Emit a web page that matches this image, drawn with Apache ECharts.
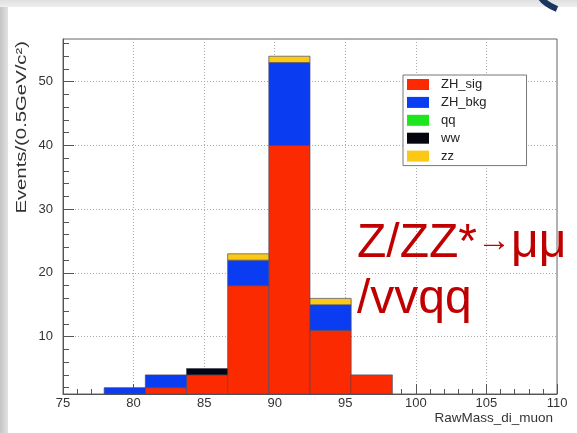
<!DOCTYPE html>
<html>
<head>
<meta charset="utf-8">
<script src="https://cdn.jsdelivr.net/npm/echarts@6/dist/echarts.min.js"></script>
<style>
  html, body { margin: 0; padding: 0; background: #fff; }
  #chart { width: 577px; height: 433px; }
</style>
</head>
<body>
<div id="chart"></div>
<script>
// histogram bins: lower edges, common width (12 bins over 75..110)
const binLow = [75, 77.917, 80.833, 83.75, 86.667, 89.583, 92.5, 95.417, 98.333, 101.25, 104.167, 107.083]
const binWidth = 2.9167

// per-bin counts, stacked bottom to top
const zhSig = [0, 0, 2, 4, 18, 40, 11, 4, 0, 0, 0, 0]
const zhBkg = [0, 2, 2, 0, 4, 13, 4, 0, 0, 0, 0, 0]
const qq    = [0, 0, 0, 0, 0, 0, 0, 0, 0, 0, 0, 0]
const ww    = [0, 0, 0, 1, 0, 0, 0, 0, 0, 0, 0, 0]
const zz    = [0, 0, 0, 0, 1, 1, 1, 0, 0, 0, 0, 0]

const seriesNames = ['ZH_sig', 'ZH_bkg', 'qq', 'ww', 'zz']
const seriesColors = ['#fc2a00', '#0a3cf2', '#1ee61e', '#05050f', '#fbc816']

const yMajorTicks = [10, 20, 30, 40, 50]
const yMinorTicks = [2, 4, 6, 8, 12, 14, 16, 18, 22, 24, 26, 28, 32, 34, 36, 38, 42, 44, 46, 48, 52, 54, 56]

const font = 'Liberation Sans, Arial, sans-serif'

const chart = echarts.init(document.getElementById('chart'))

function renderBin(params, api) {
  const x0 = api.value(0), x1 = api.value(1), y0 = api.value(2), y1 = api.value(3)
  if (y1 <= y0) return
  const p0 = api.coord([x0, y1])
  const p1 = api.coord([x1, y0])
  const cs = params.coordSys
  const rect = echarts.graphic.clipRectByRect(
    { x: p0[0], y: p0[1], width: p1[0] - p0[0], height: p1[1] - p0[1] },
    { x: cs.x, y: cs.y, width: cs.width, height: cs.height }
  )
  if (!rect) return
  return {
    type: 'rect',
    shape: rect,
    style: { fill: api.visual('color'), stroke: '#4a4a66', lineWidth: 0.7 },
  }
}

// build stacked rectangles
const layers = [zhSig, zhBkg, qq, ww, zz]
const base = binLow.map(() => 0)
const series = layers.map((vals, i) => {
  const data = vals.map((v, b) => {
    const item = [binLow[b], binLow[b] + binWidth, base[b], base[b] + v]
    base[b] += v
    return item
  })
  return {
    name: seriesNames[i],
    type: 'custom',
    renderItem: renderBin,
    encode: { x: [0, 1], y: [2, 3] },
    itemStyle: { color: seriesColors[i] },
    data,
  }
})

chart.setOption({
  backgroundColor: '#fff',
  animation: false,
  textStyle: { fontFamily: font },
  grid: {
    left: 63, right: 20, top: 39, bottom: 39,
    outerBoundsMode: 'none',
    containLabel: false,
    show: true, borderColor: '#666', borderWidth: 1, backgroundColor: 'transparent',
  },
  legend: {
    orient: 'vertical',
    left: 403, top: 75,
    data: seriesNames,
    icon: 'rect',
    itemWidth: 22, itemHeight: 11, itemGap: 4.9,
    padding: [3, 40, 3, 4],
    backgroundColor: '#fff',
    borderColor: '#777', borderWidth: 1,
    textStyle: { fontFamily: font, fontSize: 13, color: '#222', padding: [0, 0, 0, 7] },
  },
  xAxis: {
    type: 'value',
    min: 75, max: 110, interval: 5,
    axisLine: { show: true, onZero: false, lineStyle: { color: '#555', width: 1 } },
    axisTick: { show: true, inside: true, length: 10, lineStyle: { color: '#555' } },
    minorTick: { show: true, splitNumber: 5, length: 5, lineStyle: { color: '#555' } },
    axisLabel: { fontFamily: font, fontSize: 13, color: '#333', margin: 3 },
    splitLine: { show: true, lineStyle: { color: '#aaa', type: [1, 2], width: 1 } },
  },
  yAxis: [
    {
      type: 'value',
      min: 1, max: 56.7,
      position: 'left',
      axisLine: { show: true, onZero: false, lineStyle: { color: '#555', width: 1 } },
      axisTick: { show: true, inside: true, length: 11, customValues: yMajorTicks, lineStyle: { color: '#555' } },
      axisLabel: {
        fontFamily: font, fontSize: 13, color: '#333', margin: 10,
        customValues: yMajorTicks,
        formatter: (v) => (v % 10 === 0 ? String(v) : ''),
      },
      splitLine: { show: true, lineStyle: { color: '#aaa', type: [1, 2], width: 1 } },
    },
    {
      type: 'value',
      min: 1, max: 56.7,
      position: 'left',
      axisLine: { show: false },
      axisTick: { show: true, inside: true, length: 6, customValues: yMinorTicks, lineStyle: { color: '#555' } },
      axisLabel: { show: false },
      splitLine: { show: false },
    },
  ],
  graphic: [
    {
      type: 'rect', left: 0, top: 0, z: -10, silent: true,
      shape: { width: 8, height: 433 },
      style: { fill: new echarts.graphic.LinearGradient(0, 0, 1, 0, [
        { offset: 0, color: '#c4c4c4' }, { offset: 1, color: '#e2e2e2' }]) },
    },
    {
      type: 'rect', left: 0, top: 0, z: -10, silent: true,
      shape: { width: 577, height: 7 },
      style: { fill: new echarts.graphic.LinearGradient(0, 0, 0, 1, [
        { offset: 0, color: '#e0e0e0' }, { offset: 1, color: '#eeeeee' }]) },
    },
    {
      type: 'bezierCurve', z: 10, silent: true,
      shape: { x1: 541, y1: -2, cpx1: 545, cpy1: 4, x2: 557, y2: 9 },
      style: { stroke: '#1b3560', lineWidth: 6, fill: null },
    },
    {
      // y axis title (stretched like the original slide image)
      type: 'text', z: 100, silent: true,
      rotation: Math.PI / 2,
      scaleX: 1.45,
      x: 22, y: 41,
      style: {
        text: 'Events/(0.5GeV/c²)',
        font: '14px ' + font,
        fill: '#333',
        textAlign: 'right',
        textVerticalAlign: 'middle',
      },
    },
    {
      // x axis title
      type: 'text', z: 100, silent: true,
      x: 553, y: 418,
      style: {
        text: 'RawMass_di_muon',
        font: '13.5px ' + font,
        fill: '#333',
        textAlign: 'right',
        textVerticalAlign: 'middle',
      },
    },
    {
      type: 'text', z: 100, silent: true,
      x: 357, y: 216,
      style: {
        text: 'Z/ZZ*{arr|→}μμ\n/vvqq',
        font: '48px ' + font,
        lineHeight: 56,
        fill: '#c00000',
        textAlign: 'left',
        textVerticalAlign: 'top',
        rich: {
          arr: { fontSize: 34, fontFamily: font, fill: '#c00000', lineHeight: 56, padding: [0, 0, 4, 0] },
        },
      },
    },
  ],
  series,
})
</script>
</body>
</html>
